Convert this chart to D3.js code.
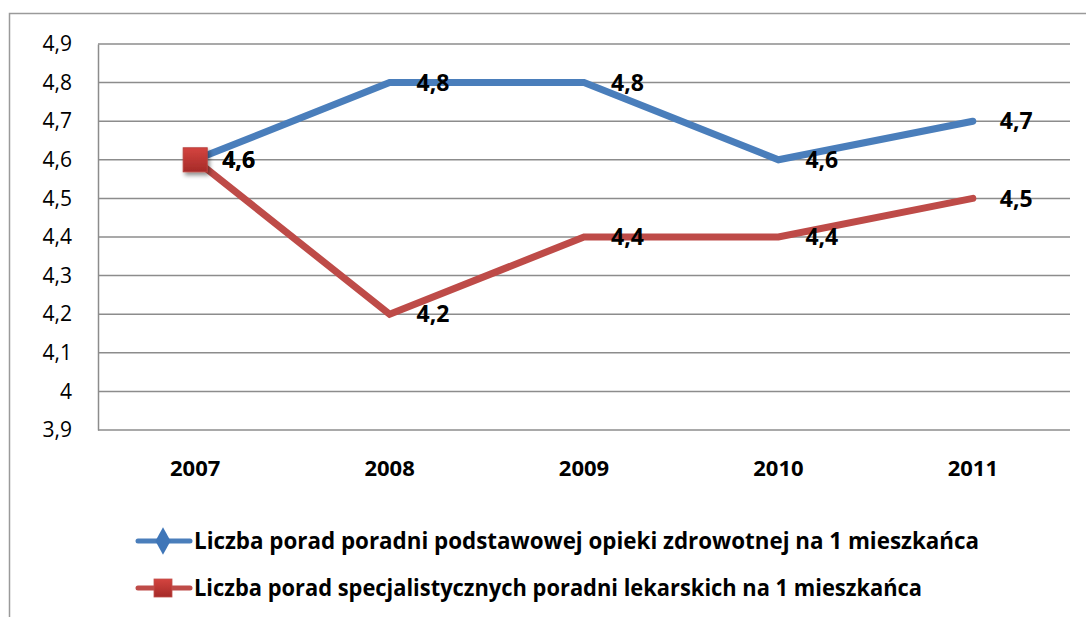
<!DOCTYPE html>
<html>
<head>
<meta charset="utf-8">
<script src="https://cdn.jsdelivr.net/npm/d3@7"></script>
<style>
  body { margin: 0; background: #fff; }
  text { font-family: "Open Sans", "Noto Sans", sans-serif; }
</style>
</head>
<body>
<div id="chart"></div>
<script>
const years = ['2007', '2008', '2009', '2010', '2011'];
const poz = [4.6, 4.8, 4.8, 4.6, 4.7];
const spec = [4.6, 4.2, 4.4, 4.4, 4.5];
const yTicks = [3.9, 4, 4.1, 4.2, 4.3, 4.4, 4.5, 4.6, 4.7, 4.8, 4.9];
const seriesNames = [
  'Liczba porad poradni podstawowej opieki zdrowotnej na  1 mieszkańca',
  'Liczba porad specjalistycznych poradni lekarskich na 1 mieszkańca'
];

const width = 1086, height = 617;
const margin = { top: 44, right: 16, bottom: 187, left: 98 };

const svg = d3.select('#chart').append('svg')
  .attr('width', width)
  .attr('height', height);

const defs = svg.append('defs');
const grad = defs.append('linearGradient').attr('id', 'redGrad')
  .attr('x1', 0).attr('y1', 0).attr('x2', 0).attr('y2', 1);
grad.append('stop').attr('offset', '0%').attr('stop-color', '#d4443f');
grad.append('stop').attr('offset', '100%').attr('stop-color', '#a52a28');
const shadow = defs.append('filter').attr('id', 'shadow')
  .attr('x', '-50%').attr('y', '-50%').attr('width', '200%').attr('height', '200%');
shadow.append('feDropShadow').attr('dx', 2).attr('dy', 3).attr('stdDeviation', 2)
  .attr('flood-color', '#000').attr('flood-opacity', 0.45);

// outer frame (chart area border, cut by the page)
svg.append('path')
  .attr('d', `M9.5,${height} V13.5 H${width}`)
  .attr('fill', 'none').attr('stroke', '#9a9a9a').attr('stroke-width', 1.5);

const x = d3.scaleBand().domain(years)
  .range([margin.left, width - margin.right]);
const y = d3.scaleLinear().domain([3.9, 4.9])
  .range([height - margin.bottom, margin.top]);

// grid lines
svg.append('g')
  .selectAll('line').data(yTicks).enter().append('line')
  .attr('x1', margin.left).attr('x2', width - margin.right)
  .attr('y1', d => y(d)).attr('y2', d => y(d))
  .attr('stroke', '#8c8c8c').attr('stroke-width', 1.5);

// y axis
const yAxis = svg.append('g')
  .attr('transform', `translate(${margin.left},0)`)
  .call(d3.axisLeft(y).tickValues(yTicks).tickSize(0).tickPadding(26)
    .tickFormat(d => String(d).replace('.', ',')));
yAxis.select('.domain').attr('stroke', '#8c8c8c').attr('stroke-width', 1.5);
yAxis.selectAll('text').attr('font-size', 21).attr('fill', '#000')
  .attr('font-family', '"Open Sans", sans-serif');

// x axis labels
const xAxis = svg.append('g')
  .attr('transform', `translate(0,${height - margin.bottom})`)
  .call(d3.axisBottom(x).tickSize(0).tickPadding(30));
xAxis.select('.domain').remove();
xAxis.selectAll('text').attr('font-size', 22).attr('font-weight', 'bold').attr('fill', '#000')
  .attr('font-family', '"Open Sans", sans-serif');

const cx = d => x(d) + x.bandwidth() / 2;
const line = d3.line().x((d, i) => cx(years[i])).y(d => y(d));

const series = [
  { values: poz, color: '#4a7ebb' },
  { values: spec, color: '#be4b48' }
];

series.forEach(s => {
  svg.append('path').datum(s.values)
    .attr('d', line)
    .attr('fill', 'none')
    .attr('stroke', s.color)
    .attr('stroke-width', 7)
    .attr('stroke-linecap', 'round')
    .attr('stroke-linejoin', 'miter');
});

// the only visible marker (first point of the red series)
svg.append('rect')
  .attr('x', cx(years[0]) - 12).attr('y', y(spec[0]) - 12)
  .attr('width', 24).attr('height', 24)
  .attr('fill', 'url(#redGrad)')
  .attr('stroke', '#b8403d').attr('stroke-width', 1)
  .attr('filter', 'url(#shadow)');

// data labels
series.forEach(s => {
  svg.append('g').selectAll('text').data(s.values).enter().append('text')
    .attr('x', (d, i) => cx(years[i]) + 27)
    .attr('y', d => y(d))
    .attr('dy', '0.36em')
    .attr('font-size', 23).attr('font-weight', 'bold').attr('fill', '#000')
    .text(d => String(d).replace('.', ','));
});

// legend
const legend = svg.append('g');
const legendY = [541, 588];
seriesNames.forEach((name, i) => {
  const g = legend.append('g').attr('transform', `translate(0,${legendY[i]})`);
  g.append('line').attr('x1', 138).attr('x2', 190).attr('y1', 0).attr('y2', 0)
    .attr('stroke', series[i].color).attr('stroke-width', 5).attr('stroke-linecap', 'round');
  if (i === 0) {
    g.append('path').attr('d', d3.symbol(d3.symbolDiamond, 200)())
      .attr('transform', 'translate(163,0) scale(1,1.05)')
      .attr('fill', '#3f76b8');
  } else {
    g.append('rect').attr('x', 154).attr('y', -9).attr('width', 18).attr('height', 18)
      .attr('fill', 'url(#redGrad)').attr('stroke', '#c0504d').attr('stroke-width', 0.8);
  }
  g.append('text').attr('x', 194).attr('y', 0).attr('dy', '0.36em')
    .attr('font-size', 23).attr('font-weight', 'bold').attr('fill', '#000')
    .attr('textLength', i === 0 ? 785 : 728).attr('lengthAdjust', 'spacingAndGlyphs')
    .text(name);
});
</script>
</body>
</html>
